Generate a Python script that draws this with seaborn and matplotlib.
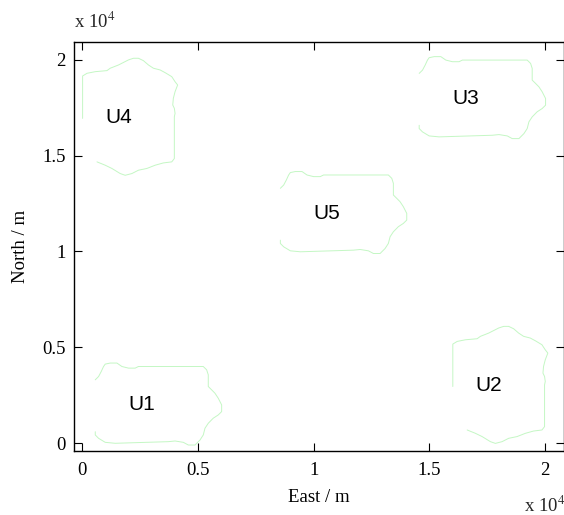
import numpy as np
import pandas as pd
import matplotlib
matplotlib.use("Agg")
import matplotlib.pyplot as plt
import seaborn as sns
from matplotlib.ticker import FuncFormatter

# ---------------- data (metres) ----------------
uav_names = ["U1", "U2", "U3", "U4", "U5"]
uav_east = [3000, 18000, 17000, 2000, 11000]     # coverage-area centres
uav_north = [2000, 3000, 18000, 17000, 12000]
uav_type = ["A", "B", "A", "B", "A"]

# outline of type-A area as read around U1 (centre 3000, 2000)
outline_a_east = [560, 703, 819, 918, 991, 1207, 1496, 1711, 1996, 2284, 2427,
                  5228, 5375, 5444, 5444, 5590, 5733, 5875, 6022, 6022, 5875,
                  5659, 5444, 5302, 5228, 5086, 4944, 4871, 4582, 4366, 4009,
                  3720, 1422, 991, 703, 560, 560]
outline_a_north = [3300, 3470, 3735, 3995, 4120, 4175, 4175, 3995, 3910, 3910,
                   3995, 3995, 3820, 3560, 2950, 2775, 2600, 2340, 1990, 1640,
                   1465, 1295, 1030, 770, 420, 155, -15, -105, -105, 35, 105,
                   70, -15, 35, 245, 420, 590]
outline_a_centre = (3000, 2000)

# outline of type-B area as read around U4 (centre 2000, 17000)
outline_b_east = [13, 13, 203, 560, 1065, 1207, 1565, 1996, 2211, 2427, 2642,
                  2858, 3073, 3362, 3578, 3866, 4009, 4120, 4009, 3935, 3909,
                  3978, 4009, 3978, 3978, 3866, 3504, 3147, 2789, 2427, 2142,
                  1853, 1638, 1280, 991, 634]
outline_b_north = [16950, 19165, 19305, 19390, 19445, 19570, 19740, 20005,
                   20090, 20090, 19965, 19740, 19570, 19480, 19340, 19130,
                   18865, 18695, 18345, 18000, 17650, 17475, 17210, 17035,
                   14855, 14680, 14625, 14505, 14335, 14245, 14070, 13980,
                   14070, 14335, 14505, 14680]
outline_b_centre = (2000, 17000)

label_dx = -1000   # label starts 1 km west of centre

x_ticks = [0, 5000, 10000, 15000, 20000]
y_ticks = [0, 5000, 10000, 15000, 20000]

# ---------------- build table ----------------
rows = []
for name, ce, cn, t in zip(uav_names, uav_east, uav_north, uav_type):
    if t == "A":
        oe, on, (c0e, c0n) = outline_a_east, outline_a_north, outline_a_centre
    else:
        oe, on, (c0e, c0n) = outline_b_east, outline_b_north, outline_b_centre
    for i, (e, n) in enumerate(zip(oe, on)):
        rows.append({"uav": name, "order": i,
                     "East": e - c0e + ce, "North": n - c0n + cn})
df = pd.DataFrame(rows)

# ---------------- style ----------------
sns.set_theme(style="white")
plt.rcParams["font.family"] = ["Liberation Serif", "DejaVu Serif"]
plt.rcParams["mathtext.fontset"] = "stix"

W, H = 564, 515
fig = plt.figure(figsize=(W / 100, H / 100), dpi=100)
left, right, top, bottom = 74.3, 563.5, 41.7, 450.7
ax = fig.add_axes([left / W, 1 - bottom / H, (right - left) / W, (bottom - top) / H])

sns.lineplot(data=df, x="East", y="North", units="uav", estimator=None,
             sort=False, color="#c4f7c4", linewidth=0.7, ax=ax, legend=False)

for name, ce, cn in zip(uav_names, uav_east, uav_north):
    ax.text(ce + label_dx, cn, name, ha="left", va="center", fontsize=15,
            family=["Liberation Sans", "DejaVu Sans"], color="black")

ax.set_xlim(-346, 20797)
ax.set_ylim(-402, 20955)
ax.set_xticks(x_ticks)
ax.set_yticks(y_ticks)
fmt = FuncFormatter(lambda v, p: "%g" % (v / 1e4))
ax.xaxis.set_major_formatter(fmt)
ax.yaxis.set_major_formatter(fmt)
ax.tick_params(direction="in", length=5.5, width=0.8, colors="black",
               labelsize=13.5, top=True, right=True, bottom=True, left=True)
ax.tick_params(axis="x", pad=8)
ax.tick_params(axis="y", pad=6)
for s in ax.spines.values():
    s.set_visible(True)
    s.set_color("black")
    s.set_linewidth(1.0)

ax.set_xlabel("East / m", fontsize=13.5, labelpad=7, color="black")
ax.set_ylabel("North / m", fontsize=13.5, labelpad=10, color="black")

fig.text(74 / W, 1 - 28 / H, r"x 10$^{4}$", fontsize=13.5, ha="left", va="baseline")
fig.text(524 / W, 1 - 512 / H, r"x 10$^{4}$", fontsize=13.5, ha="left", va="baseline")

fig.savefig("out.png", dpi=100, facecolor="white")
